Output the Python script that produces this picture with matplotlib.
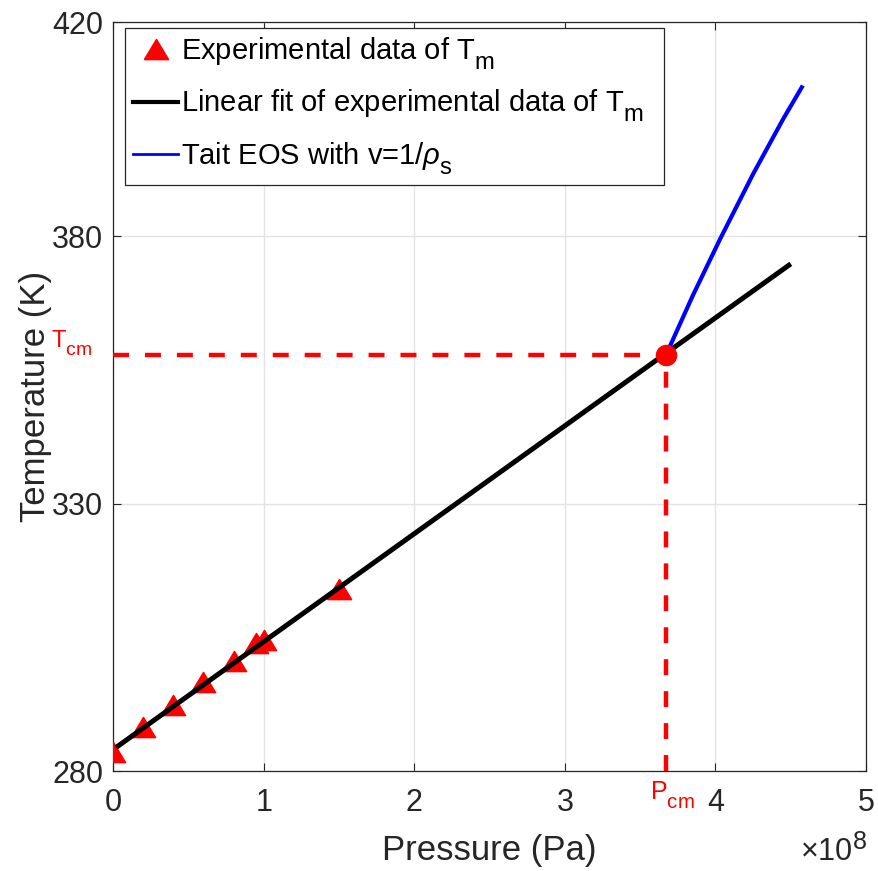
import matplotlib
matplotlib.use('Agg')
import matplotlib.pyplot as plt
import matplotlib._mathtext as mtext
from matplotlib.lines import Line2D
from matplotlib.patches import Rectangle
from matplotlib.ticker import FuncFormatter

plt.rcParams['font.family'] = ['Liberation Sans', 'DejaVu Sans']
plt.rcParams['mathtext.fontset'] = 'custom'
plt.rcParams['mathtext.rm'] = 'Liberation Sans'
plt.rcParams['mathtext.it'] = 'Liberation Sans:italic'
plt.rcParams['lines.scale_dashes'] = False

# MATLAB-like subscripts: larger and dropped lower
mtext.SHRINK_FACTOR = 0.82
mtext.FontConstantsBase.sub1 = 0.65
mtext.FontConstantsBase.sub2 = 0.75

# experimental melting temperatures (Pa, K)
p_exp = [0.001e8, 0.2e8, 0.4e8, 0.6e8, 0.8e8, 0.95e8, 1.0e8, 1.5e8]
t_exp = [283.6, 288.3, 292.3, 296.7, 300.6, 303.9, 304.5, 314.1]

# linear fit of the experimental data
p_fit = [0.02e8, 4.5e8]
t_fit = [284.4, 374.8]

# Tait EOS branch
p_tait = [3.672e8, 3.85e8, 4.03e8, 4.25e8, 4.45e8, 4.573e8]
t_tait = [357.8, 368.9, 379.4, 391.6, 401.9, 407.8]

# critical point
p_cm = 3.672e8
t_cm = 357.8

x_ticks = [0, 1e8, 2e8, 3e8, 4e8, 5e8]
y_ticks = [280, 330, 380, 420]

dark = '#262626'

fig = plt.figure(figsize=(8.79, 8.71), dpi=100)
ax = fig.add_axes([0.1286, 0.1148, 0.8567, 0.8599])

ax.plot([0, p_cm], [t_cm, t_cm], color='red', lw=3.2, dashes=(11.5, 11.5), zorder=3)
ax.plot([p_cm, p_cm], [280, t_cm], color='red', lw=3.2, dashes=(11.5, 11.5), zorder=3)

tri = [(-1.2, -1), (1.2, -1), (0, 1), (-1.2, -1)]
ax.plot(p_exp, t_exp, ls='none', marker=tri, ms=17.5, color='red', mec='red', zorder=4)
ax.plot(p_fit, t_fit, color='black', lw=3.6, solid_capstyle='butt', zorder=5)
ax.plot(p_tait, t_tait, color='blue', lw=3.0, solid_joinstyle='round', zorder=5)
ax.plot([p_cm], [t_cm], 'o', ms=14.5, color='red', zorder=6)

ax.set_xlim(0, 5e8)
ax.set_ylim(280, 420)
ax.set_xticks(x_ticks)
ax.set_yticks(y_ticks)
ax.xaxis.set_major_formatter(FuncFormatter(lambda v, pos: '%g' % (v / 1e8)))
ax.grid(True, color='#e3e3e3', lw=1.0)
ax.set_axisbelow(True)

ax.tick_params(direction='in', length=5.5, width=0.8, colors=dark,
               labelsize=22, top=True, right=True)
ax.tick_params(axis='x', pad=12)
ax.tick_params(axis='y', pad=7)
for s in ax.spines.values():
    s.set_color(dark)
    s.set_linewidth(0.9)

ax.set_xlabel('Pressure (Pa)', fontsize=25, color=dark, labelpad=12)
ax.set_ylabel('Temperature (K)', fontsize=25, color=dark, labelpad=0)

fig.text(0.9865, 0.003, r'$\times\mathregular{10^{8}}$', fontsize=22, color=dark,
         ha='right', va='bottom')

ax.text(-0.028, t_cm + 1.3, r'$\mathregular{T_{cm}}$', color='red', fontsize=17,
        ha='right', va='baseline', transform=ax.get_yaxis_transform())
ax.text(p_cm + 0.04e8, -0.012, r'$\mathregular{P_{cm}}$', color='red', fontsize=18,
        ha='center', va='top', transform=ax.get_xaxis_transform())

# legend box is wider than its text, as in MATLAB
ax.add_patch(Rectangle((0.0159, 0.7824), 0.7158, 0.2096, transform=ax.transAxes,
                       facecolor='white', edgecolor=dark, lw=0.9, zorder=7))

handles = [
    Line2D([], [], ls='none', marker=tri, ms=17.5, color='red'),
    Line2D([], [], color='black', lw=3.0),
    Line2D([], [], color='blue', lw=2.0),
]
labels = [r'Experimental data of T$_\mathregular{m}$',
          r'Linear fit of experimental data of T$_\mathregular{m}$',
          r'Tait EOS with v=1/$\rho_\mathregular{s}$']
leg = ax.legend(handles, labels, loc='upper left', bbox_to_anchor=(0.016, 0.993),
                fontsize=21, frameon=False, handlelength=1.55, handletextpad=0.1,
                labelspacing=0.55, borderpad=0.28, borderaxespad=0)
leg.set_zorder(8)
for t in leg.get_texts():
    t.set_color('black')

fig.savefig('out.png', dpi=100)
